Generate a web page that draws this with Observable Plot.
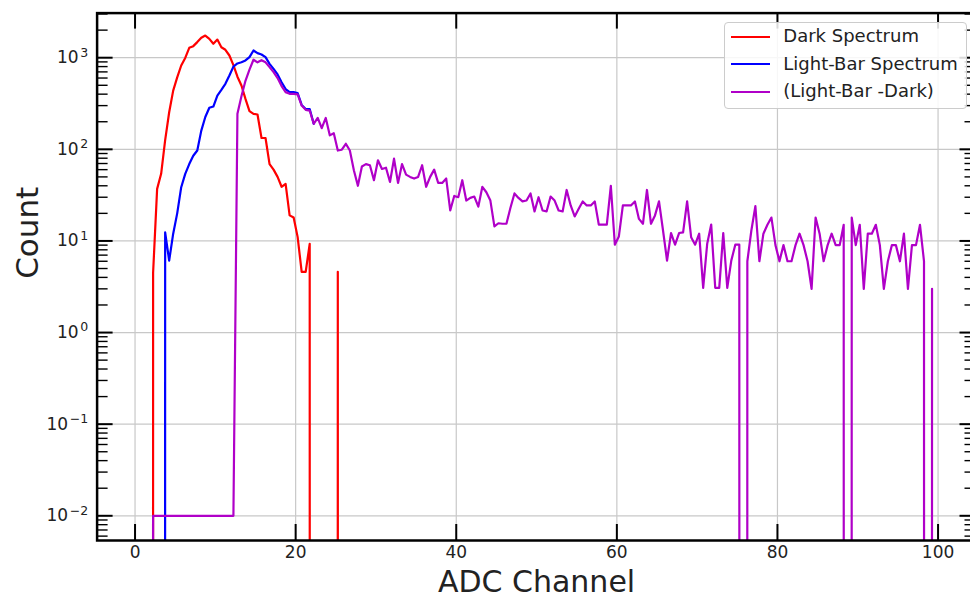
<!DOCTYPE html>
<html>
<head>
<meta charset="utf-8">
<script src="https://cdn.jsdelivr.net/npm/d3@7"></script>
<script src="https://cdn.jsdelivr.net/npm/@observablehq/plot@0.6"></script>
<style>
  html, body { margin: 0; padding: 0; background: #fff; }
  #wrap { position: relative; width: 970px; height: 598px; overflow: hidden; }
  #legend { position: absolute; left: 724px; top: 21.7px; width: 243px; height: 87.5px; box-sizing: border-box;
            border: 1px solid #cccccc; border-radius: 4px; background: rgba(255,255,255,0.85);
            font-family: "DejaVu Sans"; font-size: 18px; color: #222; }
  .sw { position: absolute; left: 6px; width: 38.6px; height: 0; border-top: 2.2px solid; }
  .lbl { position: absolute; left: 58.3px; line-height: 20px; white-space: nowrap; }
</style>
</head>
<body>
<div id="wrap"></div>
<script>
// ---------------- data ----------------
const binWidth = 0.5;                  // ADC channel bin spacing

const darkStart = 1.75;                // "Dark Spectrum"
const darkCounts = [0, 4.5, 37, 54, 126, 254, 437, 610, 822, 995, 1283, 1337, 1480, 1650, 1745, 1607,
  1420, 1577, 1300, 1220, 1057, 830, 620, 497, 355, 261, 244, 240, 133, 133, 69, 60, 50, 39, 42, 19,
  18, 11, 4.6, 4.6, 9.3, 0, 0, 0, 0, 0, 0, 4.6, 0];

const lightStart = 3.25;               // "Light-Bar Spectrum"
const lightCounts = [0, 12.4, 6.1, 12, 20, 38.6, 54, 69, 85, 97, 160, 225, 284, 293, 386, 446, 519,
  640, 800, 865, 893, 933, 1014, 1198, 1121, 1084, 1014, 857, 755, 656, 540, 455, 421, 421, 410, 305,
  275, 275, 190];

const diffStart = 1.75;                // "(Light-Bar -Dark)"
const diffCounts = [0,
  0.01, 0.01, 0.01, 0.01, 0.01, 0.01, 0.01, 0.01, 0.01, 0.01, 0.01,
  0.01, 0.01, 0.01, 0.01, 0.01, 0.01, 0.01, 0.01, 0.01, 0.01,
  245, 380, 560, 740, 950, 890, 940, 890, 790, 695, 600, 490, 421, 403, 403, 397, 300, 270, 265,
  190, 220, 170, 220, 142, 150, 97, 99, 115, 97, 59, 40, 65, 69, 67, 46, 76, 61, 63, 44, 79, 43,
  69, 53, 50, 48, 50, 67, 39, 50, 60, 43, 43, 48, 21.5, 31, 30, 46, 27.6, 29.5, 30.5, 23.7, 39, 34,
  27.6, 14.4, 15.6, 15.4, 15.4, 23, 33, 29.5, 27, 27.6, 33, 21, 30, 21.5, 21, 30.5, 27.6, 21.5, 21,
  36, 24.4, 18.5, 22.4, 27, 24.4, 24.4, 27, 15.1, 15.1, 15.1, 40, 9.1, 11.2, 24.4, 24.4, 24.4, 27,
  17.4, 15.4, 36, 15.4, 19, 27, 13, 6.1, 12.2, 9.1, 12.2, 12.4, 27, 11, 9.1, 12, 3.08, 9.3, 15.1,
  3.08, 3.08, 12.2, 3.08, 6.1, 9.1, 9.1, 0, 6, 13, 24, 6, 12, 15, 18, 9, 6, 9, 6, 6, 9, 12, 9, 6,
  3, 18, 12, 6, 9, 12, 9, 9, 15, 0, 18, 9, 15, 3, 12, 12, 15, 9, 3, 6, 9, 9, 6, 12, 3, 9, 9, 15, 6,
  0, 3];

const seriesNames = ["Dark Spectrum", "Light-Bar Spectrum", "(Light-Bar -Dark)"];
const seriesColors = ["#ff0000", "#0000ff", "#b000c8"];

const xTicks = [0, 20, 40, 60, 80, 100];
const yMajor = [1e-2, 1e-1, 1e0, 1e1, 1e2, 1e3];
const yMinor = [];
for (let e = -3; e <= 3; e++) for (let m = 2; m <= 9; m++) {
  const v = m * Math.pow(10, e);
  if (v > 0.0054 && v < 3060) yMinor.push(v);
}

// ---------------- layout ----------------
const W = 970, H = 598;
const mL = 96.6, mR = -5.5, mT = 12.6, mB = 58;
const plotW = W - mL - mR, plotH = H - mT - mB;
const majorLen = 16, minorLen = 11;
const zeroFloor = 1e-300;              // zero counts fall off the bottom of the log axis

const toRows = (start, counts) =>
  counts.map((c, i) => ({x: start + i * binWidth, y: Math.max(c, zeroFloor)}));
const darkRows = toRows(darkStart, darkCounts);
const lightRows = toRows(lightStart, lightCounts);
const diffRows = toRows(diffStart, diffCounts);

const fmtPow = d => "10^" + String(Math.round(Math.log10(d))).replace("-", "\u2212");

const tickStyle = {stroke: "black", strokeWidth: 2};
const minorStyle = {stroke: "black", strokeWidth: 1.4};

const chart = Plot.plot({
  width: W, height: H,
  marginLeft: mL, marginRight: mR, marginTop: mT, marginBottom: mB,
  style: {fontFamily: "DejaVu Sans", fontSize: "17px", color: "#222", background: "white", overflow: "visible"},
  x: {domain: [-4.725, 104.725]},
  y: {type: "log", domain: [0.005374, 3068]},
  marks: [
    Plot.gridX(xTicks, {stroke: "#c8c8c8", strokeOpacity: 1, strokeWidth: 1.2}),
    Plot.gridY(yMajor, {stroke: "#c8c8c8", strokeOpacity: 1, strokeWidth: 1.2}),
    Plot.line(darkRows, {x: "x", y: "y", stroke: seriesColors[0], strokeWidth: 2.2, clip: true}),
    Plot.line(lightRows, {x: "x", y: "y", stroke: seriesColors[1], strokeWidth: 2.2, clip: true}),
    Plot.line(diffRows, {x: "x", y: "y", stroke: seriesColors[2], strokeWidth: 2.2, clip: true}),
    // inward ticks on all four sides
    Plot.tickX(xTicks, {x: d => d, insetTop: plotH - majorLen, ...tickStyle}),
    Plot.tickX(xTicks, {x: d => d, insetBottom: plotH - majorLen, ...tickStyle}),
    Plot.tickY(yMajor, {y: d => d, insetRight: plotW - majorLen, ...tickStyle}),
    Plot.tickY(yMajor, {y: d => d, insetLeft: plotW - majorLen, ...tickStyle}),
    Plot.tickY(yMinor, {y: d => d, insetRight: plotW - minorLen, ...minorStyle}),
    Plot.tickY(yMinor, {y: d => d, insetLeft: plotW - minorLen, ...minorStyle}),
    Plot.frame({stroke: "black", strokeWidth: 2.5}),
    Plot.axisX(xTicks, {tickSize: 0, tickPadding: 5.5, fontSize: 17, label: null, tickFormat: d => String(d)}),
    Plot.axisY(yMajor, {tickSize: 0, tickPadding: 9, fontSize: 17, label: null, tickFormat: fmtPow}),
    Plot.text(["ADC Channel"], {frameAnchor: "bottom", dy: 41.5, fontSize: 30, lineAnchor: "middle", fill: "#222"}),
    Plot.text(["Count"], {frameAnchor: "left", rotate: -90, dx: -69, dy: 2, fontSize: 31, lineAnchor: "middle", fill: "#222"})
  ]
});

// typeset the y tick labels as 10 with a raised exponent
d3.select(chart).selectAll('g[aria-label="y-axis tick label"] text').each(function() {
  const t = d3.select(this);
  const parts = t.text().split("^");
  if (parts.length !== 2) return;
  t.text(parts[0]);
  t.append("tspan").attr("dx", "1.5").attr("dy", "-0.53em").attr("font-size", "12.5px").text(parts[1]);
});

const wrap = document.getElementById("wrap");
wrap.appendChild(chart);

// legend (inside the axes, upper right)
const legend = document.createElement("div");
legend.id = "legend";
const rowY = [14, 41.5, 69];
seriesNames.forEach((name, i) => {
  const sw = document.createElement("div");
  sw.className = "sw";
  sw.style.top = (rowY[i] - 1.1) + "px";
  sw.style.borderTopColor = seriesColors[i];
  legend.appendChild(sw);
  const lb = document.createElement("div");
  lb.className = "lbl";
  lb.style.top = (rowY[i] - 10.5) + "px";
  lb.textContent = name;
  legend.appendChild(lb);
});
wrap.appendChild(legend);
</script>
</body>
</html>
